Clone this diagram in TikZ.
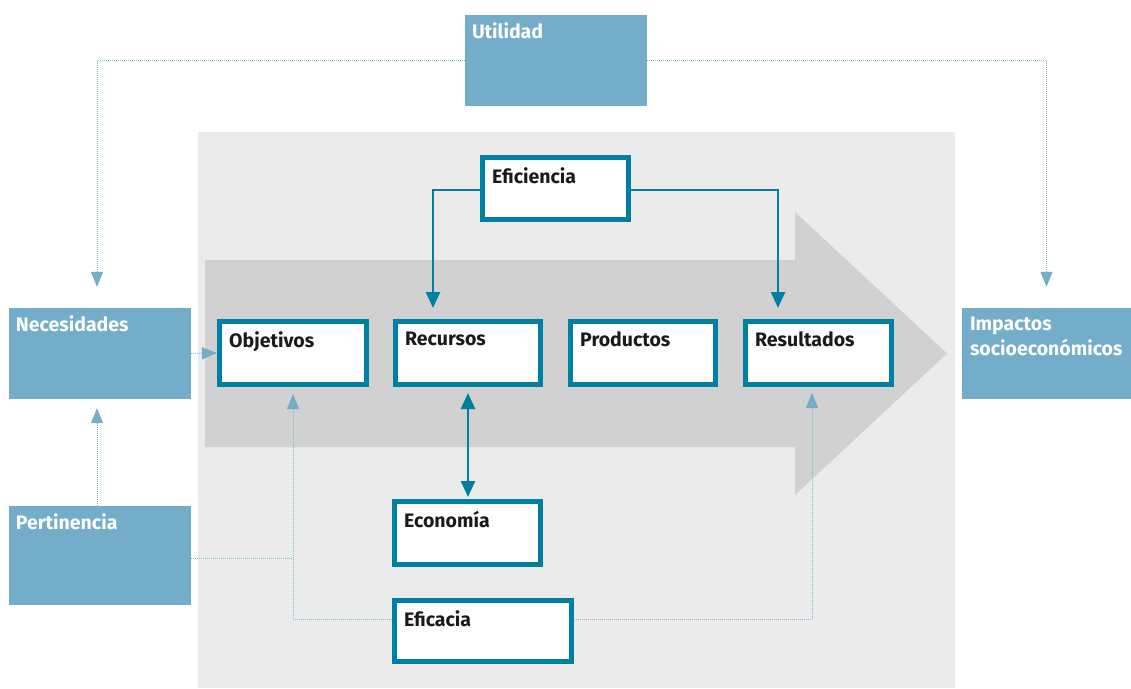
\documentclass[tikz,border=0pt]{standalone}
\usepackage{fontspec}
\setmainfont{Fira Sans}
\usetikzlibrary{arrows.meta,calc}
\definecolor{tealc}{HTML}{0080A0}
\definecolor{bluebox}{HTML}{73ADCA}
\definecolor{bggray}{HTML}{EBEBEB}
\definecolor{arrowgray}{HTML}{D1D1D1}
\definecolor{dotblue}{HTML}{82BAD6}
\definecolor{txt}{HTML}{1A1A1A}
\tikzset{
  tbox/.style={draw=tealc, line width=5pt, fill=white, inner sep=0pt, minimum height=63pt},
  bbox/.style={fill=bluebox, inner sep=0pt, minimum width=182pt, minimum height=91pt},
  tlbl/.style={anchor=north west, inner sep=0pt, xshift=12pt, yshift=-12.5pt, text=txt},
  blbl/.style={anchor=north west, inner sep=0pt, xshift=7pt, yshift=-7.5pt, text=white, align=left},
  tcon/.style={draw=tealc, line width=2.5pt, -{Triangle[length=16pt,width=14pt]}},
  dline/.style={draw=dotblue, line width=1pt, dash pattern=on 1pt off 1pt},
  dcon/.style={dline, -{Triangle[length=15pt,width=12pt,color=bluebox]}}
}
\begin{document}
\begin{tikzpicture}[x=1pt,y=-1pt,font=\fontsize{19.5}{25}\selectfont\bfseries]
\useasboundingbox (0,0) rectangle (1131,688);
% background panel and big arrow
\fill[bggray] (198,132) rectangle (955,688);
\fill[arrowgray] (205,260) -- (795,260) -- (795,212) -- (947,353.5) -- (795,495) -- (795,447) -- (205,447) -- cycle;

% blue boxes
\node[bbox, label={[blbl]north west:Utilidad}] (Utilidad) at (556,60.5) {};
\node[bbox, label={[blbl]north west:Necesidades}] (Necesidades) at (100,353.5) {};
\node[bbox, minimum height=99pt, label={[blbl]north west:Pertinencia}] (Pertinencia) at (100,555.5) {};
\node[bbox, minimum width=169pt, label={[blbl,xshift=1pt,yshift=-1pt]north west:Impactos\\socioeconómicos}] (Impactos) at (1046.5,353.5) {};

% teal boxes
\node[tbox, minimum width=147pt, label={[tlbl]north west:Objetivos}] (Objetivos) at (293,353) {};
\node[tbox, minimum width=145pt, label={[tlbl]north west:Recursos}] (Recursos) at (468,353) {};
\node[tbox, minimum width=145pt, label={[tlbl]north west:Productos}] (Productos) at (643,353) {};
\node[tbox, minimum width=146pt, label={[tlbl]north west:Resultados}] (Resultados) at (818.5,353) {};
\node[tbox, minimum width=146pt, minimum height=62pt, label={[tlbl]north west:Eficiencia}] (Eficiencia) at (555.5,188.5) {};
\node[tbox, minimum width=146pt, minimum height=63pt, label={[tlbl]north west:Economía}] (Economia) at (467.5,533) {};
\node[tbox, minimum width=177pt, minimum height=61pt, label={[tlbl]north west:Eficacia}] (Eficacia) at (483,631) {};

% teal connectors
\draw[tcon, shorten >=11pt] ([yshift=-1.5pt]Eficiencia.west) -| ([xshift=-35pt]Recursos.north);
\draw[tcon, shorten >=11pt] ([yshift=-1.5pt]Eficiencia.east) -| ([xshift=-40.5pt]Resultados.north);
\draw[tcon, {Triangle[length=16pt,width=14pt]}-{Triangle[length=16pt,width=14pt]}, shorten <=6pt, shorten >=2pt] (Recursos.south) -- (Recursos.south |- Economia.north);

% dotted connectors
\draw[dcon] (Necesidades.east) -- (Objetivos.west);
\draw[dcon, shorten >=21pt] (Utilidad.west) -| ([xshift=-3pt]Necesidades.north);
\draw[dcon, shorten >=21pt] (Utilidad.east) -| (Impactos.north);
\draw[dcon, shorten >=9pt] ([xshift=-3pt]Pertinencia.north) -- ([xshift=-3pt]Necesidades.south);
\draw[dline] ([yshift=-3pt]Pertinencia.east) -- ([yshift=-3pt]Pertinencia.east -| Objetivos.south);
\draw[dcon, shorten >=7pt] ([yshift=12pt]Eficacia.west) -| (Objetivos.south);
\draw[dcon, shorten >=6pt] ([yshift=12pt]Eficacia.east) -| ([xshift=-6.5pt]Resultados.south);
\end{tikzpicture}
\end{document}
